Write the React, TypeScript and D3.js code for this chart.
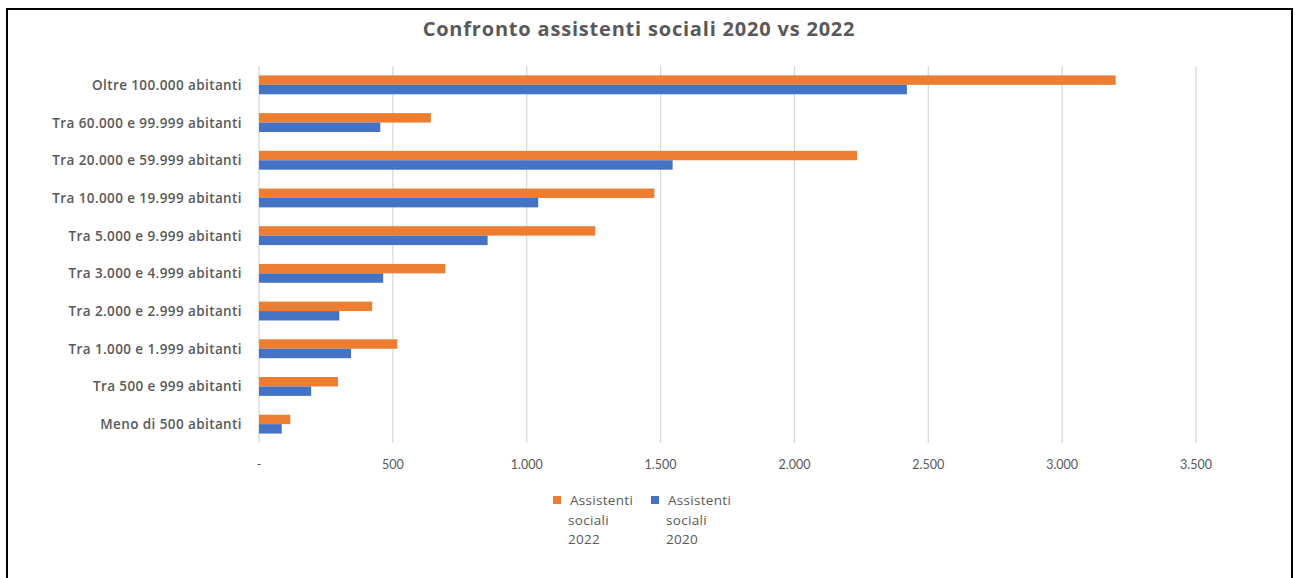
import React from "react";
import * as d3 from "d3";

const categories = [
  "Oltre 100.000 abitanti",
  "Tra 60.000 e 99.999 abitanti",
  "Tra 20.000 e 59.999 abitanti",
  "Tra 10.000 e 19.999 abitanti",
  "Tra 5.000 e 9.999 abitanti",
  "Tra 3.000 e 4.999 abitanti",
  "Tra 2.000 e 2.999 abitanti",
  "Tra 1.000 e 1.999 abitanti",
  "Tra 500 e 999 abitanti",
  "Meno di 500 abitanti",
];
const values2022 = [3200, 642, 2234, 1477, 1256, 696, 423, 517, 295, 117];
const values2020 = [2420, 453, 1545, 1043, 854, 464, 300, 344, 195, 85];
const xTicks = [0, 500, 1000, 1500, 2000, 2500, 3000, 3500];
const seriesNames = ["Assistenti sociali 2022", "Assistenti sociali 2020"];

const W = 1295;
const H = 578;
const ORANGE = "#ED7D31";
const BLUE = "#4472C4";
const TEXT = "#595959";
const FONT = "Lato, 'Open Sans', sans-serif";
const FONT2 = "'Open Sans', Lato, sans-serif";

export default function App() {
  const x = d3.scaleLinear().domain([0, 3500]).range([259, 1196]);
  const y = d3.scaleBand<string>().domain(categories).range([66, 443]).paddingInner(0.5).paddingOuter(0.25);
  const sub = d3.scaleBand<string>().domain(["2022", "2020"]).range([0, y.bandwidth()]);
  const fmt = (v: number) => (v === 0 ? "-" : d3.format(",")(v).replace(/,/g, "."));

  return (
    <svg width={W} height={H} style={{ position: "absolute", left: 0, top: 0, background: "#fff" }}>
      <rect x={7} y={9} width={1285} height={600} fill="#fff" stroke="#000" strokeWidth={2} />
      <text x={639} y={36} textAnchor="middle" fontFamily={FONT2} fontWeight={700} fontSize={20} letterSpacing={0.8} fill={TEXT}>
        Confronto assistenti sociali 2020 vs 2022
      </text>
      {xTicks.map((t) => (
        <line key={"g" + t} x1={x(t)} x2={x(t)} y1={66} y2={443} stroke="#d9d9d9" strokeWidth={1.3} />
      ))}
      {xTicks.map((t) => (
        <text key={"t" + t} x={x(t)} y={469} textAnchor="middle" fontFamily={FONT} fontSize={12.5} fill={TEXT}>
          {fmt(t)}
        </text>
      ))}
      {categories.map((c, i) => (
        <g key={c}>
          <rect x={x(0)} y={(y(c) as number) + (sub("2022") as number)} width={x(values2022[i]) - x(0)} height={sub.bandwidth()} fill={ORANGE} />
          <rect x={x(0)} y={(y(c) as number) + (sub("2020") as number)} width={x(values2020[i]) - x(0)} height={sub.bandwidth()} fill={BLUE} />
          <text x={242} y={(y(c) as number) + y.bandwidth() / 2 + 5} textAnchor="end" fontFamily={FONT2} fontWeight={600} fontSize={13.5} letterSpacing={0.4} fill={TEXT}>
            {c}
          </text>
        </g>
      ))}
      {seriesNames.map((s, i) => {
        const lx = 553 + i * 98;
        const words = ["Assistenti", "sociali", s.split(" ")[2]];
        return (
          <g key={s}>
            <rect x={lx} y={496} width={8} height={8} fill={i === 0 ? ORANGE : BLUE} />
            {words.map((w, j) => (
              <text key={j} x={j === 0 ? lx + 17 : lx + 15} y={505 + j * 19.5} fontFamily={FONT2} fontSize={13.5} letterSpacing={0.3} fill={TEXT}>
                {w}
              </text>
            ))}
          </g>
        );
      })}
    </svg>
  );
}
